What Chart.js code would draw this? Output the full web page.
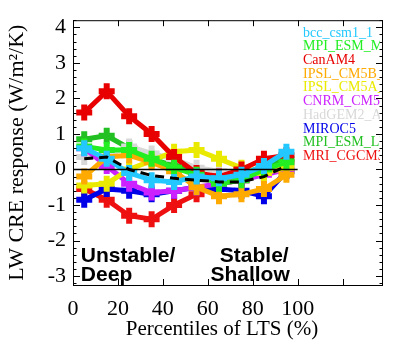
<!DOCTYPE html>
<html lang="en">
<head>
    <meta charset="UTF-8">
    <title>LW CRE response vs LTS percentiles</title>
    <script src="https://cdn.jsdelivr.net/npm/chart.js"></script>
    <style>
        html, body { margin: 0; padding: 0; background: #fff; }
        #wrap { width: 397px; height: 342px; }
    </style>
</head>
<body>
    <div id="wrap"><canvas id="myChart" width="397" height="342"></canvas></div>
    <script>
        // ---- data ----
        var percentiles = [5, 15, 25, 35, 45, 55, 65, 75, 85, 95];
        var xTicks = [0, 20, 40, 60, 80, 100, 120];
        var yTicks = [-3, -2, -1, 0, 1, 2, 3, 4];

        var modelNames = ['bcc_csm1_1', 'MPI_ESM_MR', 'CanAM4', 'IPSL_CM5B_LR', 'IPSL_CM5A_LR',
                          'CNRM_CM5', 'HadGEM2_A', 'MIROC5', 'MPI_ESM_LR', 'MRI_CGCM3'];
        var modelColors = ['#22c8ff', '#22ee22', '#e80000', '#ffaa00', '#eaea00',
                           '#cc22ff', '#d8d8d8', '#0000e8', '#22c022', '#ee1010'];

        var bcc      = [0.60, 0.30, -0.10, -0.30, -0.35, -0.20, -0.25, -0.15, 0.10, 0.50];
        var mpiMR    = [0.65, 0.55, 0.55, 0.30, 0.05, -0.15, -0.40, -0.30, 0.00, 0.20];
        var canAM4   = [1.60, 2.20, 1.50, 1.00, 0.35, -0.10, -0.20, 0.00, 0.30, 0.40];
        var ipslB    = [-0.20, 0.35, 0.40, 0.20, -0.05, -0.50, -0.75, -0.70, -0.55, -0.15];
        var ipslA    = [-0.45, -0.40, 0.00, 0.25, 0.50, 0.55, 0.30, 0.05, -0.10, 0.05];
        var cnrm     = [0.60, 0.10, -0.40, -0.65, -0.60, -0.50, -0.40, -0.30, -0.15, 0.00];
        var hadgem   = [0.35, 0.40, 0.65, 0.45, 0.30, 0.05, -0.05, -0.10, 0.00, 0.10];
        var miroc5   = [-0.85, -0.55, -0.60, -0.70, -0.60, -0.50, -0.55, -0.60, -0.75, -0.05];
        var mpiLR    = [0.85, 0.95, 0.60, 0.30, 0.10, -0.10, -0.25, -0.15, 0.10, 0.30];
        var mri      = [-0.55, -0.85, -1.30, -1.40, -1.00, -0.70, -0.40, -0.30, -0.10, 0.20];
        var ensMean  = [0.30, 0.35, 0.00, -0.17, -0.25, -0.30, -0.35, -0.35, -0.20, 0.10];

        var zeroLineX = [0, 100];
        var modelSeries = [bcc, mpiMR, canAM4, ipslB, ipslA, cnrm, hadgem, miroc5, mpiLR, mri];

        function pts(ys) {
            return ys.map(function(v, i) { return {x: percentiles[i], y: v}; });
        }

        var datasets = [];
        datasets.push({
            label: 'zero',
            data: zeroLineX.map(function(x) { return {x: x, y: 0}; }),
            borderColor: '#000', borderWidth: 1.5, pointRadius: 0, order: -2
        });
        datasets.push({
            label: 'mean',
            data: pts(ensMean),
            borderColor: '#000', borderWidth: 3, borderDash: [9, 6],
            pointRadius: 0, order: -1
        });
        modelSeries.forEach(function(s, i) {
            datasets.push({
                label: modelNames[i],
                data: pts(s),
                borderColor: modelColors[i],
                backgroundColor: modelColors[i],
                borderWidth: 5,
                pointStyle: 'cross',
                pointRadius: 8,
                pointBorderWidth: 6,
                pointBorderColor: modelColors[i],
                order: 0
            });
        });

        var serif = 'Liberation Serif, Times New Roman, serif';

        var framePlugin = {
            id: 'frame',
            afterDraw: function(chart) {
                var ctx = chart.ctx, a = chart.chartArea;
                var xs = chart.scales.x, ys = chart.scales.y;
                ctx.save();
                ctx.strokeStyle = '#000';
                ctx.lineWidth = 1;
                ctx.strokeRect(a.left + 0.5, a.top + 0.5, a.right - a.left - 1, a.bottom - a.top);
                // y ticks (major + minor), both sides, inward
                ctx.beginPath();
                for (var v = -3.2; v <= 4.21; v += 0.2) {
                    var y = Math.round(ys.getPixelForValue(v)) + 0.5;
                    var major = Math.abs(v - Math.round(v)) < 0.01;
                    var len = major ? 7 : 3.5;
                    ctx.moveTo(a.left, y); ctx.lineTo(a.left + len, y);
                    ctx.moveTo(a.right, y); ctx.lineTo(a.right - len, y);
                }
                xTicks.forEach(function(t) {
                    var x = Math.round(xs.getPixelForValue(t)) + 0.5;
                    ctx.moveTo(x, a.bottom); ctx.lineTo(x, a.bottom - 6);
                    ctx.moveTo(x, a.top); ctx.lineTo(x, a.top + 6);
                });
                ctx.stroke();

                // x axis title
                ctx.fillStyle = '#000';
                ctx.font = '21px ' + serif;
                ctx.textAlign = 'center';
                ctx.textBaseline = 'middle';
                ctx.fillText('Percentiles of LTS (%)', 222, 329);

                // legend text, clipped to the plot box
                ctx.save();
                ctx.beginPath();
                ctx.rect(a.left, a.top, a.right - a.left - 3, a.bottom - a.top);
                ctx.clip();
                ctx.font = '14px ' + serif;
                ctx.textBaseline = 'middle';
                ctx.textAlign = 'left';
                modelNames.forEach(function(n, i) {
                    ctx.fillStyle = modelColors[i];
                    ctx.fillText(n, 303, 33 + i * 13.7);
                });
                ctx.restore();

                // regime annotations
                ctx.fillStyle = '#000';
                ctx.font = 'bold 21px Liberation Sans, Arial, sans-serif';
                ctx.textBaseline = 'alphabetic';
                ctx.textAlign = 'left';
                ctx.fillText('Unstable/', xs.getPixelForValue(3.5), ys.getPixelForValue(-2.6));
                ctx.fillText('Deep', xs.getPixelForValue(3.5), ys.getPixelForValue(-3.15));
                ctx.textAlign = 'right';
                ctx.fillText('Stable/', xs.getPixelForValue(96), ys.getPixelForValue(-2.6));
                ctx.fillText('Shallow', xs.getPixelForValue(96.5), ys.getPixelForValue(-3.15));
                ctx.restore();
            }
        };

        var ctx = document.getElementById('myChart').getContext('2d');
        var myChart = new Chart(ctx, {
            type: 'line',
            data: { datasets: datasets },
            options: {
                responsive: false,
                animation: false,
                layout: { padding: { top: 10, right: 4, left: 0, bottom: 0 } },
                plugins: { legend: { display: false }, tooltip: { enabled: false } },
                scales: {
                    x: {
                        type: 'linear',
                        min: 0,
                        max: 138,
                        afterBuildTicks: function(scale) {
                            scale.ticks = xTicks.map(function(v) { return {value: v}; });
                        },
                        afterFit: function(scale) { scale.height = 57; },
                        grid: { display: false, drawTicks: false },
                        border: { display: false },
                        ticks: {
                            color: '#000', padding: 11, maxRotation: 0, autoSkip: false,
                            font: { family: serif, size: 22 },
                            callback: function(v) { return v <= 100 ? String(v) : ''; }
                        },
                        title: { display: false }
                    },
                    y: {
                        min: -3.25,
                        max: 4.2,
                        afterBuildTicks: function(scale) {
                            scale.ticks = yTicks.map(function(v) { return {value: v}; });
                        },
                        afterFit: function(scale) { scale.width = 73; },
                        grid: { display: false, drawTicks: false },
                        border: { display: false },
                        ticks: {
                            color: '#000', padding: 7,
                            font: { family: serif, size: 22 }
                        },
                        title: {
                            display: true, text: 'LW CRE response (W/m\u00B2/K)', color: '#000',
                            font: { family: serif, size: 22 }, padding: { top: 4, bottom: 0 }
                        }
                    }
                }
            },
            plugins: [framePlugin]
        });
    </script>
</body>
</html>
